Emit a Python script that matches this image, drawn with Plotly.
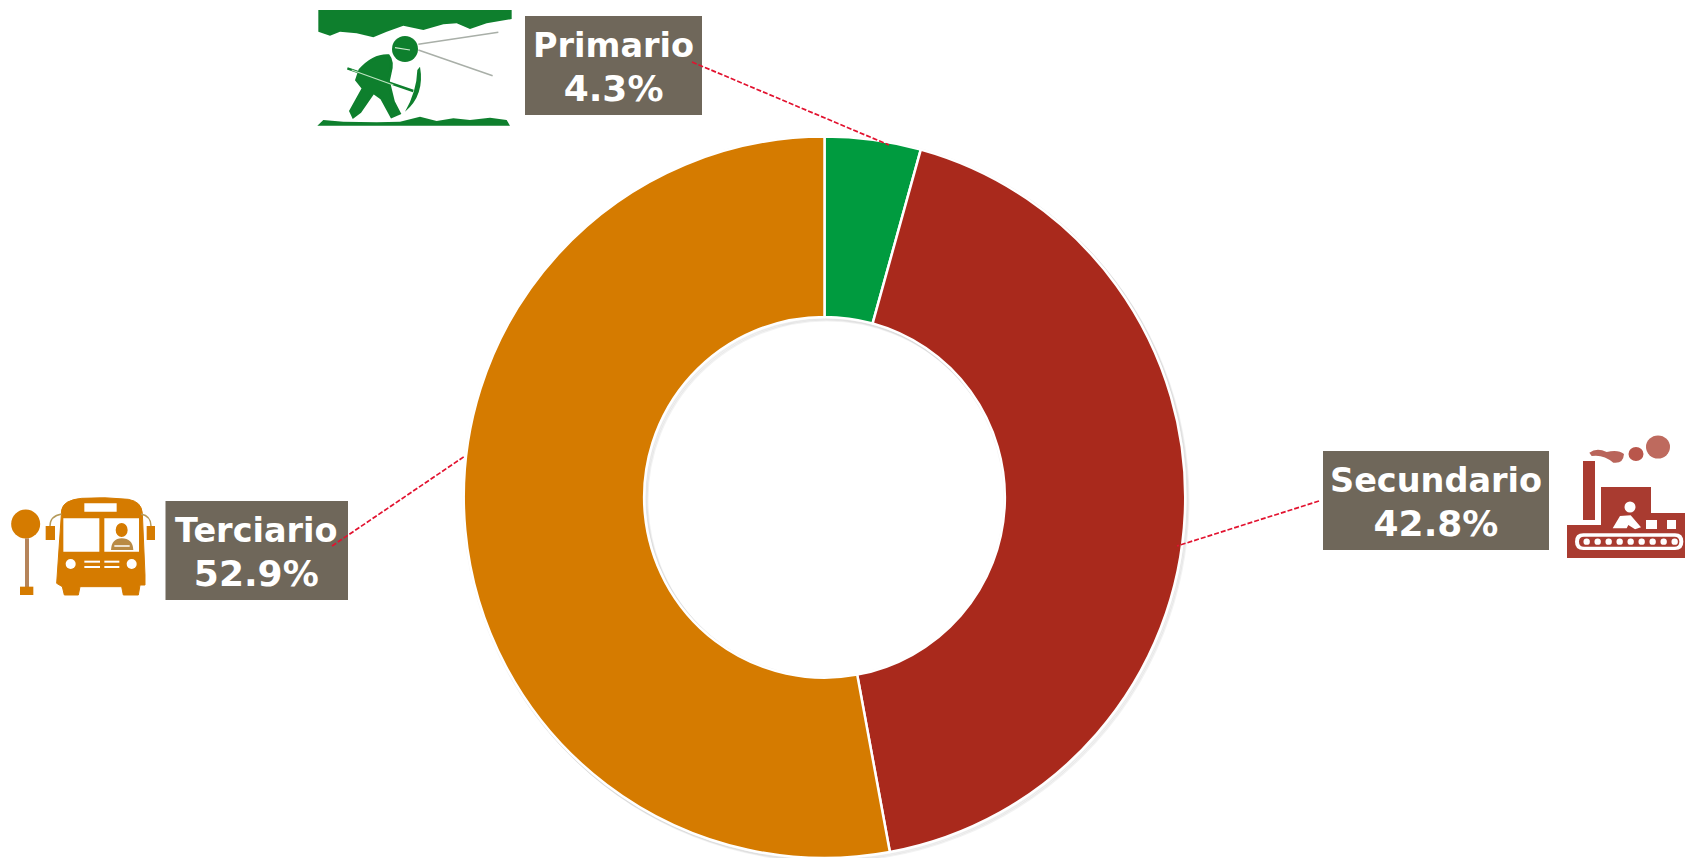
import re
import plotly.graph_objects as go

W, H = 1685, 858
categories = ["Primario", "Secundario", "Terciario"]
values = [4.3, 42.8, 52.9]
colors = ["#009B3F", "#A9291C", "#D57B00"]
label_boxes = [(525, 16, 702, 115), (1323, 451, 1549, 550), (165.5, 501, 348, 600)]
leaders = [((692, 62), (889, 145)), ((1319, 501), (1177, 546)), ((332, 546), (465, 456))]
BOX = "#6F675A"
RED = "#E2122F"
GREEN = "#0E7F2D"
ORANGE = "#D57B00"
BRICK = "#A93B30"
CX, CY, RADIUS = 824.5, 497.5, 361


def fx(x):
    return x / W


def fy(y):
    return 1 - y / H


def path(d, ox=0, oy=0, s=1):
    parts = re.findall(r"[MLQCZ]|-?\d+\.?\d*", d)
    out, isx = [], True
    for p in parts:
        if p in "MLQCZ":
            out.append(p)
            isx = True
        else:
            out.append(f"{fx(ox + float(p) * s):.5f}" if isx else f"{fy(oy + float(p) * s):.5f}")
            isx = not isx
    return " ".join(out)


shapes = []


def poly(d, color, ox=0, oy=0, s=1, edge=0):
    shapes.append(dict(type="path", xref="paper", yref="paper", path=path(d, ox, oy, s), fillcolor=color,
                       line=dict(width=edge, color=color), layer="above"))


def curve(d, color, width, ox=0, oy=0, s=1):
    shapes.append(dict(type="path", xref="paper", yref="paper", path=path(d, ox, oy, s),
                       line=dict(width=width, color=color), layer="above"))


def rect(x0, y0, x1, y1, color):
    shapes.append(dict(type="rect", xref="paper", yref="paper", x0=fx(x0), x1=fx(x1), y0=fy(y1), y1=fy(y0),
                       fillcolor=color, line=dict(width=0), layer="above"))


def circ(cx, cy, rx, ry, color):
    shapes.append(dict(type="circle", xref="paper", yref="paper", x0=fx(cx - rx), x1=fx(cx + rx),
                       y0=fy(cy + ry), y1=fy(cy - ry), fillcolor=color, line=dict(width=0), layer="above"))


def stroke(x0, y0, x1, y1, color, width, dash="solid"):
    shapes.append(dict(type="line", xref="paper", yref="paper", x0=fx(x0), x1=fx(x1), y0=fy(y0), y1=fy(y1),
                       line=dict(color=color, width=width, dash=dash), layer="above"))


# donut soft shadow, falling to the lower right
for d in (0.5, 1.5, 2.5):
    for r in (RADIUS + 0.5, RADIUS / 2 - 1):
        shapes.append(dict(type="circle", xref="paper", yref="paper", x0=fx(CX + d - r), x1=fx(CX + d + r),
                           y0=fy(CY + d + r), y1=fy(CY + d - r),
                           line=dict(color="rgba(0,0,0,0.05)", width=2), layer="below"))

# miner icon (local coordinates at one third scale)
mx, my, ms = 310, 5, 1 / 3
poly("M 25 15 L 605 15 L 605 42 L 530 55 L 480 72 L 440 55 L 400 58 L 340 75 L 280 62 L 230 80 L 190 97 L 140 85 L 90 80 L 60 92 L 25 80 Z", GREEN, mx, my, ms)
poly("M 22 362 L 40 345 L 100 350 L 200 352 L 270 350 L 330 335 L 380 348 L 430 340 L 480 345 L 540 338 L 590 345 L 600 362 Z", GREEN, mx, my, ms)
circ(mx + 285 * ms, my + 132 * ms, 13, 13, GREEN)
curve("M 255 128 L 300 135", "#CDEBCF", 1.2, mx, my, ms)
curve("M 325 118 L 565 82", "#A9AFA8", 1.5, mx, my, ms)
curve("M 325 135 L 548 212", "#A9AFA8", 1.5, mx, my, ms)
poly("M 150 195 Q 190 150 235 152 Q 250 170 240 205 L 235 228 L 250 290 L 268 325 L 245 335 L 215 280 L 190 262 L 150 320 L 130 335 L 122 318 L 160 250 L 140 225 Z", GREEN, mx, my, ms, edge=3)
curve("M 112 190 L 310 258", GREEN, 2.5, mx, my, ms)
curve("M 125 195 L 250 240", "#BFE5C2", 1.2, mx, my, ms)
poly("M 330 185 Q 345 270 285 320 Q 320 260 322 195 Z", GREEN, mx, my, ms)

# bus icon (local coordinates at one third scale)
bx, by, bs = 5, 490, 1 / 3
circ(bx + 62 * bs, by + 102 * bs, 14.5, 14.5, ORANGE)
rect(bx + 60 * bs, by + 145 * bs, bx + 72 * bs, by + 295 * bs, "#B5845A")
rect(bx + 45 * bs, by + 290 * bs, bx + 85 * bs, by + 315 * bs, ORANGE)
poly("M 155 280 L 170 60 Q 175 30 230 25 Q 300 20 370 28 Q 410 35 412 70 L 420 255 L 420 285 L 405 285 L 400 315 L 355 315 L 350 290 L 225 290 L 220 315 L 178 315 L 172 290 Z", ORANGE, bx, by, bs, edge=1)
for x0, y0, x1, y1 in [(238, 40, 335, 65), (175, 85, 283, 185), (298, 85, 402, 185)]:
    rect(bx + x0 * bs, by + y0 * bs, bx + x1 * bs, by + y1 * bs, "white")
circ(bx + 350 * bs, by + 120 * bs, 6, 7, ORANGE)
poly("M 318 180 Q 320 145 350 145 Q 383 145 385 180 Z", "#B98A45", bx, by, bs)
curve("M 328 168 L 374 168", "white", 1.5, bx, by, bs)
circ(bx + 197 * bs, by + 222 * bs, 5, 5, "white")
circ(bx + 380 * bs, by + 222 * bs, 5, 5, "white")
for y0 in (212, 228):
    rect(bx + 238 * bs, by + y0 * bs, bx + 285 * bs, by + (y0 + 6) * bs, "white")
    rect(bx + 298 * bs, by + y0 * bs, bx + 343 * bs, by + (y0 + 6) * bs, "white")
rect(bx + 122 * bs, by + 108 * bs, bx + 150 * bs, by + 150 * bs, ORANGE)
rect(bx + 425 * bs, by + 108 * bs, bx + 450 * bs, by + 150 * bs, ORANGE)
curve("M 135 108 Q 135 78 170 72", "#B59A5A", 1.5, bx, by, bs)
curve("M 438 108 Q 438 78 408 72", "#B59A5A", 1.5, bx, by, bs)

# factory icon (local coordinates at one third scale)
gx, gy, gs = 1560, 430, 1 / 3
circ(1658, 447, 12, 11.5, "#BE6A5E")
circ(1636, 454, 7.5, 7, "#B9564B")
poly("M 88 68 Q 110 52 140 66 Q 175 58 192 72 Q 190 102 160 98 Q 130 72 95 78 Z", "#B9645A", gx, gy, gs)
rect(1583, 461, 1595, 520, BRICK)
rect(1601, 487, 1651, 526, BRICK)
rect(1651, 513, 1685, 526, BRICK)
rect(1567, 525, 1685, 558, BRICK)
poly("M 70 310 L 345 310 Q 370 310 370 335 Q 370 360 345 360 L 70 360 Q 45 360 45 335 Q 45 310 70 310 Z", "white", gx, gy, gs)
poly("M 72 320 L 343 320 Q 358 320 358 335 Q 358 350 343 350 L 72 350 Q 57 350 57 335 Q 57 320 72 320 Z", BRICK, gx, gy, gs)
for cx in (80, 113, 146, 179, 212, 245, 278, 311, 344):
    circ(gx + cx * gs, gy + 335 * gs, 3.2, 3.2, "white")
circ(1630, 507, 5.5, 5.5, "white")
poly("M 158 295 L 180 258 L 212 256 L 243 292 L 225 298 L 205 285 L 200 295 Z", "white", gx, gy, gs)
rect(1646, 520, 1657, 529, "white")
rect(1667, 520, 1676, 529, "white")

annotations = []
for name, val, (x0, y0, x1, y1) in zip(categories, values, label_boxes):
    rect(x0, y0, x1, y1, BOX)

for (a, b) in leaders:
    stroke(a[0], a[1], b[0], b[1], RED, 1.7, "5px,2px")

for name, val, (x0, y0, x1, y1) in zip(categories, values, label_boxes):
    annotations.append(dict(xref="paper", yref="paper", x=fx((x0 + x1) / 2), y=fy((y0 + y1) / 2 + 2),
                            text=f"<b>{name}<br><span style='font-size:36px'>{val}%</span></b>",
                            showarrow=False, xanchor="center", yanchor="middle",
                            align="center", font=dict(family="DejaVu Sans", size=33.5, color="white")))

fig = go.Figure(go.Pie(labels=categories, values=values, hole=0.5, sort=False, direction="clockwise", rotation=0,
                       marker=dict(colors=colors, line=dict(color="white", width=2.5)), textinfo="none",
                       domain=dict(x=[fx(CX - RADIUS), fx(CX + RADIUS)], y=[max(fy(CY + RADIUS), 0), fy(CY - RADIUS)])))
fig.update_layout(width=W, height=H, margin=dict(l=0, r=0, t=0, b=0), showlegend=False,
                  paper_bgcolor="white", shapes=shapes, annotations=annotations)
fig.write_html("out.html", config={"displayModeBar": False},
               post_script="document.body.style.margin='0';document.body.style.overflow='hidden';")
